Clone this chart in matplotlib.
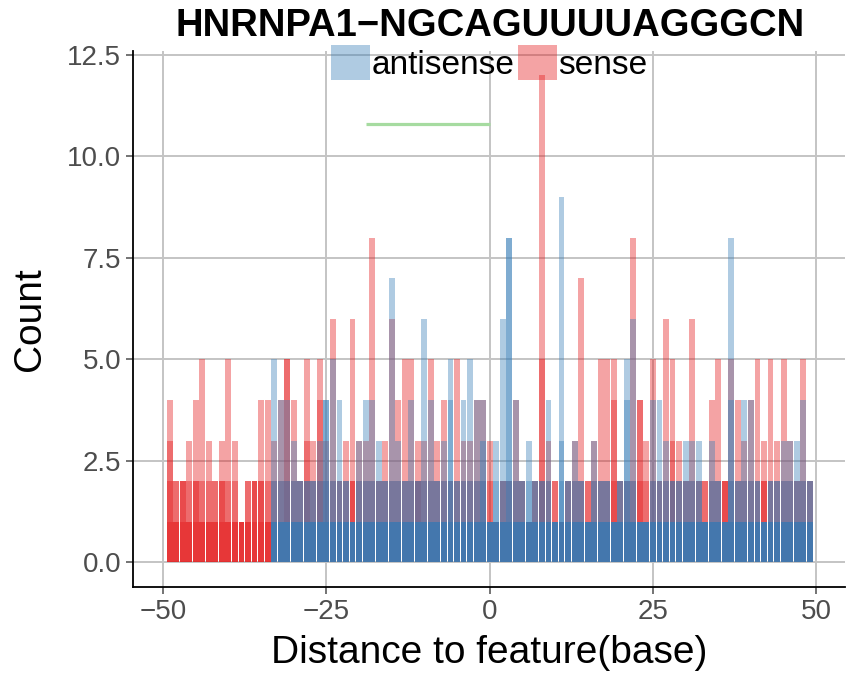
import numpy as np
import matplotlib
matplotlib.use("Agg")
import matplotlib.pyplot as plt
from matplotlib.patches import Patch

plt.rcParams["font.family"] = ["Liberation Sans", "DejaVu Sans"]

# ── Data ──────────────────────────────────────────────────────────────
positions = np.arange(-49, 50)

# tallest row per position
sense_top = [
    4, 2, 2, 3, 4, 5, 3, 2, 3, 5, 3, 1, 2, 2, 4, 4,          # -49..-34
    3, 4, 5, 4, 2, 5, 3, 5, 3, 6, 2, 3, 6, 3, 3, 8, 2,       # -33..-17
    3, 6, 4, 5, 5, 3, 3, 5, 3, 4, 2, 5, 3, 3, 4, 4,          # -16..-1
    3, 1, 2, 2, 4, 2, 1, 2, 12, 3, 2, 1, 2, 3, 7, 2, 3,      # 0..16
    5, 5, 5, 2, 2, 8, 4, 3, 5, 2, 6, 5, 3, 2, 6, 2, 2,       # 17..33
    4, 5, 2, 5, 4, 3, 4, 5, 3, 5, 3, 5, 3, 2, 5, 2,          # 34..49
]
antisense_top = [
    0, 0, 0, 0, 0, 0, 0, 0, 0, 0, 0, 0, 0, 0, 0, 0,
    5, 4, 4, 3, 2, 2, 2, 3, 4, 5, 4, 2, 1, 3, 4, 4, 3,
    2, 7, 3, 2, 4, 2, 6, 4, 2, 3, 5, 2, 4, 5, 4, 4,
    1, 3, 6, 8, 4, 2, 3, 2, 2, 4, 1, 9, 2, 3, 2, 1, 3,
    2, 2, 1, 2, 5, 6, 1, 1, 4, 4, 3, 2, 2, 3, 3, 3, 1,
    3, 2, 1, 8, 2, 4, 4, 2, 1, 2, 2, 3, 3, 3, 4, 2,
]

# second row per position
sense_second = [
    3, 1, 2, 1, 2, 1, 1, 1, 2, 1, 1, 1, 1, 2, 2, 1,
    1, 1, 5, 1, 1, 3, 1, 4, 1, 1, 1, 1, 2, 1, 1, 1, 1,
    1, 1, 1, 1, 1, 2, 1, 1, 1, 1, 1, 1, 1, 1, 1, 1,
    1, 1, 1, 1, 1, 1, 1, 1, 5, 1, 1, 1, 1, 1, 1, 1, 1,
    1, 1, 4, 1, 1, 1, 4, 1, 1, 1, 1, 3, 1, 1, 1, 1, 1,
    1, 1, 2, 1, 1, 1, 1, 1, 2, 1, 1, 1, 1, 1, 1, 1,
]
antisense_second = [
    0, 0, 0, 0, 0, 0, 0, 0, 0, 0, 0, 0, 0, 0, 0, 0,
    1, 1, 1, 1, 1, 1, 1, 1, 4, 1, 1, 1, 1, 1, 1, 1, 1,
    1, 1, 1, 1, 1, 1, 1, 1, 1, 1, 4, 1, 1, 1, 1, 3,
    1, 1, 1, 8, 1, 1, 1, 1, 1, 1, 1, 3, 1, 1, 1, 1, 1,
    1, 1, 1, 1, 4, 1, 1, 1, 1, 1, 1, 1, 1, 1, 1, 1, 1,
    1, 1, 1, 4, 1, 1, 1, 1, 1, 1, 1, 1, 1, 1, 1, 1,
]
# extra low rows stacked at the bottom (heights capped at these counts)
sense_base_caps = [2, 1]
antisense_base_caps = [2, 1, 1]

motif_start, motif_end, motif_y = -19, 0, 10.8

title = "HNRNPA1\u2212NGCAGUUUUAGGGCN"
colors = {"antisense": "#377EB8", "sense": "#E41A1C"}

# ── Plot ──────────────────────────────────────────────────────────────
fig = plt.figure(figsize=(8.64, 6.76), dpi=100)
ax = fig.add_axes([0.154, 0.132, 0.824, 0.793])


def draw_rows(top, second, caps, color):
    top = np.array(top)
    layers = [top, np.array(second)] + [np.minimum(top, c) for c in caps]
    for h in layers:
        ax.bar(positions, h, width=0.9, color=color, alpha=0.4, linewidth=0, zorder=2)


draw_rows(sense_top, sense_second, sense_base_caps, colors["sense"])
draw_rows(antisense_top, antisense_second, antisense_base_caps, colors["antisense"])

ax.plot([motif_start, motif_end], [motif_y, motif_y], color="#a6dba0",
        linewidth=2.3, solid_capstyle="butt", zorder=3)

ax.set_xlim(-54.6, 54.4)
ax.set_ylim(-0.6, 12.6)
ax.set_xticks([-50, -25, 0, 25, 50])
ax.set_xticklabels(["\u221250", "\u221225", "0", "25", "50"])
ax.set_yticks([0, 2.5, 5, 7.5, 10, 12.5])
ax.set_yticklabels(["0.0", "2.5", "5.0", "7.5", "10.0", "12.5"])
ax.tick_params(labelsize=20, colors="#4d4d4d", length=5, width=1.1)
ax.tick_params(axis="x", pad=4)
ax.grid(color="#c4c4c4", linewidth=1.4)
ax.set_axisbelow(True)
for s in ["top", "right"]:
    ax.spines[s].set_visible(False)
for s in ["left", "bottom"]:
    ax.spines[s].set_linewidth(1.3)

ax.set_xlabel("Distance to feature(base)", fontsize=28, labelpad=7)
ax.set_ylabel("Count", fontsize=28, labelpad=14)

fig.text(0.567, 0.962, title, ha="center", va="center", fontsize=27.5, fontweight="bold")

handles = [Patch(facecolor=colors["antisense"], alpha=0.4, linewidth=0),
           Patch(facecolor=colors["sense"], alpha=0.4, linewidth=0)]
ax.legend(handles, ["antisense", "sense"], loc="center", bbox_to_anchor=(0.5, 0.977),
          ncol=2, frameon=False, fontsize=24, handlelength=1.17, handleheight=1.2,
          handletextpad=0.05, columnspacing=0.1, borderaxespad=0, borderpad=0)

fig.savefig("out.png", dpi=100)
